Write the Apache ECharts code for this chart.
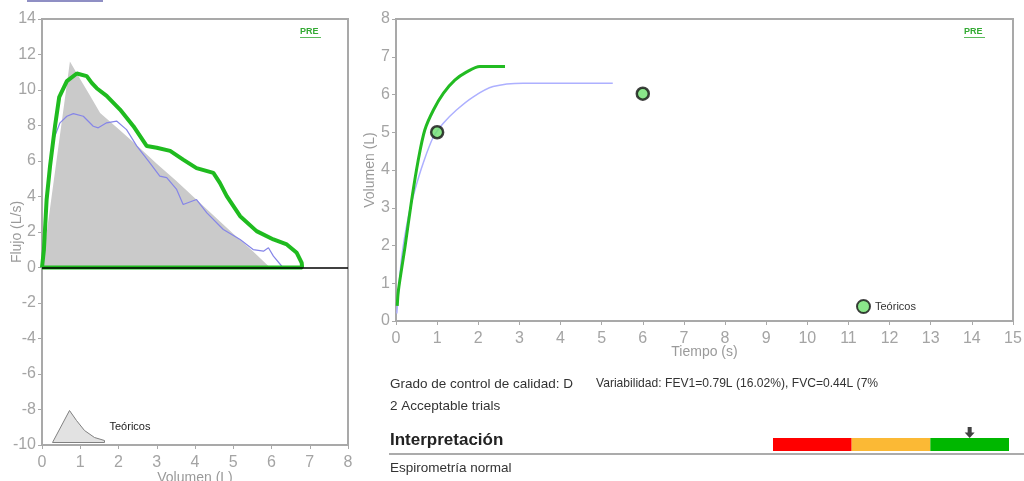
<!DOCTYPE html>
<html>
<head>
<meta charset="utf-8">
<script src="https://cdn.jsdelivr.net/npm/echarts@6/dist/echarts.min.js"></script>
<style>
  html, body { margin: 0; padding: 0; background: #fff; }
  #chart { width: 1024px; height: 481px; }
</style>
</head>
<body>
<div id="chart"></div>
<script>
// flujo-volumen (L, L/s)
const fvTeorico = [[0, 0], [0.73, 11.6], [1.0, 10.6], [1.25, 9.7], [1.52, 8.7], [2.0, 7.8], [2.5, 6.85],
  [3.0, 5.85], [3.5, 4.9], [4.0, 3.9], [4.5, 2.9], [5.0, 1.9], [5.5, 0.95], [5.96, 0]]
const fvMejor = [[0, 0], [0.05, 1.0], [0.12, 3.8], [0.21, 5.7], [0.34, 7.96], [0.45, 9.6], [0.65, 10.5],
  [0.91, 10.93], [1.17, 10.78], [1.30, 10.4], [1.43, 10.1], [1.69, 9.67], [2.04, 8.9], [2.39, 7.96],
  [2.74, 6.84], [3.0, 6.75], [3.35, 6.57], [3.69, 6.08], [4.04, 5.6], [4.48, 5.33], [4.65, 4.77],
  [4.83, 4.02], [5.18, 2.89], [5.61, 2.05], [6.05, 1.58], [6.4, 1.3], [6.66, 0.83], [6.79, 0.26],
  [6.8, 0], [0, 0]]
const fvOtro = [[0, 0], [0.1, 3.5], [0.2, 5.6], [0.30, 7.2], [0.47, 8.15], [0.65, 8.52], [0.82, 8.67],
  [1.08, 8.52], [1.34, 7.96], [1.47, 7.87], [1.69, 8.15], [1.95, 8.25], [2.21, 7.77], [2.48, 6.84],
  [2.82, 5.9], [3.08, 5.15], [3.26, 5.06], [3.52, 4.4], [3.69, 3.55], [4.04, 3.83], [4.31, 3.08],
  [4.74, 2.14], [5.18, 1.58], [5.52, 1.01], [5.79, 0.92], [5.92, 1.11], [6.05, 0.64], [6.27, 0.07]]

// volumen-tiempo (s, L)
const vtMejor = [[0.03, 0.4], [0.06, 0.82], [0.22, 1.97], [0.38, 3.2], [0.54, 4.26], [0.70, 5.06],
  [0.91, 5.59], [1.15, 6.03], [1.43, 6.38], [1.72, 6.6], [2.04, 6.74], [2.3, 6.74], [2.65, 6.74]]
const vtOtro = [[0.02, 0.2], [0.14, 1.7], [0.3, 2.76], [0.46, 3.47], [0.66, 4.18], [0.91, 4.88],
  [1.15, 5.24], [1.47, 5.59], [1.88, 5.94], [2.36, 6.21], [3.09, 6.3], [5.27, 6.3]]
const vtTeorico = [[1.0, 5.0], [6.0, 6.02]]

// barra de interpretación
const escala = ['rojo', 'ambar', 'verde']
const escalaColor = ['#ff0000', '#fbb935', '#00b700']
const escalaValor = [1, 1, 1]
const posicion = 2.5

const gris = '#a9a9a9'
const txtFont = 'Liberation Sans'

function ejes(gridIndex, xmax, ymin, ymax, yint, xname, yname, xgap, ygap) {
  const axisCommon = {
    gridIndex,
    type: 'value',
    splitLine: { show: false },
    axisLine: { show: true, onZero: false, lineStyle: { color: gris, width: 2 } },
    axisTick: { show: true, length: 4, lineStyle: { color: gris } },
    axisLabel: { color: '#a4a4a4', fontSize: 16, fontFamily: txtFont },
    nameLocation: 'middle',
    nameMoveOverlap: false,
    nameTextStyle: { color: '#9a9a9a', fontSize: 14, fontFamily: txtFont }
  }
  return {
    x: Object.assign({}, axisCommon, { min: 0, max: xmax, interval: 1, name: xname, nameGap: xgap,
      axisLabel: Object.assign({}, axisCommon.axisLabel, { margin: 10 }) }),
    y: Object.assign({}, axisCommon, { min: ymin, max: ymax, interval: yint, name: yname, nameGap: ygap,
      axisLabel: Object.assign({}, axisCommon.axisLabel, { margin: 6 }) })
  }
}

const izq = ejes(0, 8, -10, 14, 2, 'Volumen (L)', 'Flujo (L/s)', 26, 18)
const der = ejes(1, 15, 0, 8, 1, 'Tiempo (s)', 'Volumen (L)', 24, 19)

const chart = echarts.init(document.getElementById('chart'))
chart.setOption({
  animation: false,
  grid: [
    { left: 42, top: 19, width: 306, height: 426, show: true, borderColor: gris, borderWidth: 2,
      containLabel: false, outerBoundsMode: 'none' },
    { left: 396, top: 19, width: 617, height: 302, show: true, borderColor: gris, borderWidth: 2,
      containLabel: false, outerBoundsMode: 'none' },
    { left: 773, top: 438, width: 236, height: 13, outerBoundsMode: 'none' }
  ],
  xAxis: [izq.x, der.x,
    { gridIndex: 2, type: 'value', min: 0, max: 3, show: false }],
  yAxis: [izq.y, der.y,
    { gridIndex: 2, type: 'category', data: ['x'], show: false }],
  legend: [
    {
      data: [{ name: 'Teóricos', icon: 'path://M0,32 L17,0 L24,10 L32,20 L42,27 L52,30 L52,32 Z' }],
      left: 47, top: 405, itemWidth: 52, itemHeight: 32, itemGap: 4,
      itemStyle: { color: '#e2e2e2', borderColor: '#808080', borderWidth: 1 },
      textStyle: { color: '#222', fontSize: 11, fontFamily: txtFont }
    },
    {
      data: [{ name: 'TeoricosVT', icon: 'circle' }],
      formatter: () => 'Teóricos',
      left: 851, top: 294, itemWidth: 13, itemHeight: 13, itemGap: 3,
      textStyle: { color: '#333', fontSize: 11, fontFamily: txtFont }
    }
  ],
  series: [
    {
      name: 'Teóricos', type: 'line', xAxisIndex: 0, yAxisIndex: 0, data: fvTeorico,
      symbol: 'none', lineStyle: { width: 0 }, itemStyle: { color: '#cacaca' },
      areaStyle: { color: '#cacaca', opacity: 1 }, z: 1
    },
    {
      name: 'otro', type: 'line', xAxisIndex: 0, yAxisIndex: 0, data: fvOtro,
      symbol: 'none', lineStyle: { color: '#8585e8', width: 1.2 }, z: 2
    },
    {
      name: 'mejor', type: 'line', xAxisIndex: 0, yAxisIndex: 0, data: fvMejor,
      symbol: 'none', lineStyle: { color: '#1fbb1f', width: 4 }, z: 3
    },
    {
      name: 'cero', type: 'line', xAxisIndex: 0, yAxisIndex: 0, data: [], z: 5,
      markLine: {
        silent: true, symbol: 'none', label: { show: false },
        lineStyle: { color: '#000', width: 1.5, type: 'solid' },
        data: [{ yAxis: 0 }]
      }
    },
    {
      name: 'otroVT', type: 'line', xAxisIndex: 1, yAxisIndex: 1, data: vtOtro,
      symbol: 'none', smooth: 0.3, lineStyle: { color: '#adb0ff', width: 1.5 }, z: 2
    },
    {
      name: 'mejorVT', type: 'line', xAxisIndex: 1, yAxisIndex: 1, data: vtMejor,
      symbol: 'none', smooth: 0.3, lineStyle: { color: '#22bb22', width: 3 }, z: 3
    },
    {
      name: 'TeoricosVT', type: 'scatter', xAxisIndex: 1, yAxisIndex: 1, data: vtTeorico,
      symbol: 'circle', symbolSize: 12,
      itemStyle: { color: '#6de06d', borderColor: '#111', borderWidth: 2.5 }, z: 4
    },
    ...escala.map((n, i) => ({
      name: n, type: 'bar', xAxisIndex: 2, yAxisIndex: 2, stack: 'escala', barWidth: '100%',
      data: [escalaValor[i]], itemStyle: { color: escalaColor[i] }, silent: true
    })),
    {
      name: 'flecha', type: 'scatter', xAxisIndex: 2, yAxisIndex: 2, data: [[posicion, 'x']],
      symbol: 'path://M3,0 L7,0 L7,5 L10,5 L5,10 L0,5 L3,5 Z', symbolSize: [10, 11],
      symbolOffset: [0, -12], itemStyle: { color: '#111' }, z: 6
    }
  ],
  graphic: [
    { type: 'line', shape: { x1: 27, y1: 1, x2: 103, y2: 1 }, style: { stroke: '#6a6ab0', lineWidth: 1.5 } },
    { type: 'text', left: 300, top: 27, style: { text: 'PRE', fill: '#33aa33', font: 'bold 9px ' + txtFont } },
    { type: 'line', shape: { x1: 300, y1: 37.5, x2: 321, y2: 37.5 }, style: { stroke: '#5cbb5c', lineWidth: 1 } },
    { type: 'text', left: 964, top: 27, style: { text: 'PRE', fill: '#33aa33', font: 'bold 9px ' + txtFont } },
    { type: 'line', shape: { x1: 964, y1: 37.5, x2: 985, y2: 37.5 }, style: { stroke: '#5cbb5c', lineWidth: 1 } },
    { type: 'text', left: 390, top: 377, style: { text: 'Grado de control de calidad: D', fill: '#333', font: '13.5px ' + txtFont } },
    { type: 'text', left: 596, top: 378, style: { text: 'Variabilidad: FEV1=0.79L (16.02%), FVC=0.44L (7%', fill: '#333', font: '12.1px ' + txtFont } },
    { type: 'text', left: 390, top: 399, style: { text: '2 Acceptable trials', fill: '#333', font: '13.5px ' + txtFont } },
    { type: 'text', left: 390, top: 432, style: { text: 'Interpretación', fill: '#222', font: 'bold 17px ' + txtFont } },
    { type: 'line', shape: { x1: 389, y1: 454, x2: 1024, y2: 454 }, style: { stroke: '#ababab', lineWidth: 2 } },
    { type: 'text', left: 390, top: 461, style: { text: 'Espirometría normal', fill: '#333', font: '13.5px ' + txtFont } }
  ]
})
</script>
</body>
</html>
